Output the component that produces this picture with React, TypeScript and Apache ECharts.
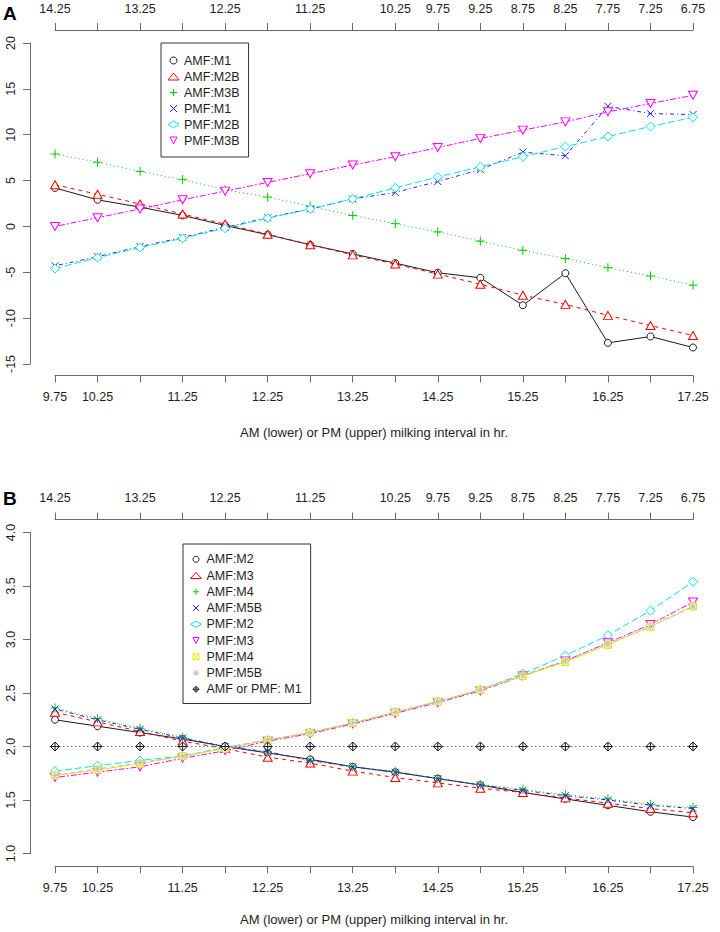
import React, { useEffect, useRef } from "react";
import * as echarts from "echarts";

// ---------- data ----------
const xCategories = ["9.75", "10.25", "10.75", "11.25", "11.75", "12.25", "12.75", "13.25", "13.75", "14.25", "14.75", "15.25", "15.75", "16.25", "16.75", "17.25"];
const topCategories = ["14.25", "13.75", "13.25", "12.75", "12.25", "11.75", "11.25", "10.75", "10.25", "9.75", "9.25", "8.75", "8.25", "7.75", "7.25", "6.75"];
const bottomShownLabels = ["9.75", "10.25", "11.25", "12.25", "13.25", "14.25", "15.25", "16.25", "17.25"];
const topShownLabels = ["14.25", "13.25", "12.25", "11.25", "10.25", "9.75", "9.25", "8.75", "8.25", "7.75", "7.25", "6.75"];
const yTicksA = [-15, -10, -5, 0, 5, 10, 15, 20];
const yTicksB = [1.0, 1.5, 2.0, 2.5, 3.0, 3.5, 4.0];
const xTitle = "AM (lower) or PM (upper) milking interval in hr.";

// Panel A
const namesA = ["AMF:M1", "AMF:M2B", "AMF:M3B", "PMF:M1", "PMF:M2B", "PMF:M3B"];
const amfM1 = [4.2, 2.9, 2.1, 1.2, 0.1, -0.9, -2.0, -3.0, -4.0, -5.05, -5.6, -8.6, -5.1, -12.7, -12.0, -13.2];
const amfM2B = [4.55, 3.5, 2.45, 1.35, 0.25, -0.85, -2.0, -3.1, -4.1, -5.2, -6.3, -7.5, -8.5, -9.7, -10.8, -11.9];
const amfM3B = [7.9, 7.0, 6.0, 5.1, 4.0, 3.2, 2.2, 1.2, 0.3, -0.6, -1.6, -2.6, -3.5, -4.5, -5.4, -6.4];
const pmfM1 = [-4.3, -3.3, -2.2, -1.2, -0.1, 0.95, 1.9, 3.0, 3.7, 4.9, 6.2, 8.1, 7.7, 13.1, 12.3, 12.2];
const pmfM2B = [-4.6, -3.4, -2.3, -1.3, -0.2, 0.9, 1.9, 3.0, 4.2, 5.4, 6.5, 7.6, 8.7, 9.8, 10.9, 11.9];
const pmfM3B = [0.0, 0.95, 1.9, 2.9, 3.85, 4.8, 5.75, 6.7, 7.6, 8.6, 9.6, 10.5, 11.4, 12.5, 13.4, 14.3];
const valuesA = [amfM1, amfM2B, amfM3B, pmfM1, pmfM2B, pmfM3B];

// Panel B
const namesB = ["AMF:M2", "AMF:M3", "AMF:M4", "AMF:M5B", "PMF:M2", "PMF:M3", "PMF:M4", "PMF:M5B", "AMF or PMF: M1"];
const amfM2 = [2.25, 2.19, 2.13, 2.07, 2.0, 1.94, 1.88, 1.81, 1.76, 1.70, 1.64, 1.57, 1.51, 1.45, 1.39, 1.34];
const amfM3 = [2.32, 2.23, 2.14, 2.05, 1.98, 1.90, 1.845, 1.77, 1.71, 1.66, 1.61, 1.57, 1.52, 1.47, 1.42, 1.38];
const amfM4 = [2.36, 2.26, 2.17, 2.085, 2.0, 1.95, 1.87, 1.81, 1.77, 1.70, 1.645, 1.60, 1.55, 1.51, 1.46, 1.43];
const amfM5B = [2.35, 2.25, 2.16, 2.08, 2.0, 1.95, 1.87, 1.81, 1.76, 1.70, 1.64, 1.59, 1.54, 1.50, 1.45, 1.42];
const pmfM2 = [1.77, 1.82, 1.87, 1.91, 1.99, 2.06, 2.13, 2.22, 2.32, 2.42, 2.53, 2.68, 2.85, 3.04, 3.27, 3.54];
const pmfM3 = [1.71, 1.76, 1.81, 1.89, 1.96, 2.05, 2.12, 2.21, 2.31, 2.41, 2.52, 2.66, 2.80, 2.97, 3.14, 3.35];
const pmfM4 = [1.73, 1.78, 1.84, 1.91, 1.98, 2.06, 2.13, 2.22, 2.32, 2.42, 2.53, 2.66, 2.79, 2.95, 3.12, 3.31];
const pmfM5B = [1.73, 1.79, 1.85, 1.91, 1.99, 2.06, 2.13, 2.22, 2.32, 2.42, 2.53, 2.67, 2.80, 2.96, 3.12, 3.31];
const m1 = [2.0, 2.0, 2.0, 2.0, 2.0, 2.0, 2.0, 2.0, 2.0, 2.0, 2.0, 2.0, 2.0, 2.0, 2.0, 2.0];
const valuesB = [amfM2, amfM3, amfM4, amfM5B, pmfM2, pmfM3, pmfM4, pmfM5B, m1];
const m1LineExtent = [9.75, 17.6];

// ---------- styles ----------
const FONT = "'Liberation Sans', Arial, Helvetica, sans-serif";
const AXIS_COLOR = "#6a6a6a";
const TEXT_COLOR = "#1e1e1e";

const SYM = {
  circle: "circle",
  triangle: "triangle",
  plus: "path://M-1,0L1,0M0,-1L0,1",
  cross: "path://M-1,-1L1,1M-1,1L1,-1",
  diamond: "diamond",
  invTriangle: "path://M-1,-1L1,-1L0,1Z",
  boxX: "path://M-1,-1L1,-1L1,1L-1,1ZM-1,-1L1,1M-1,1L1,-1",
  asterisk: "path://M-1,0L1,0M0,-1L0,1M-0.7,-0.7L0.7,0.7M-0.7,0.7L0.7,-0.7",
  diamondPlus: "path://M0,-1L1,0L0,1L-1,0ZM-1,0L1,0M0,-1L0,1",
};

const DASH = {
  solid: "solid",
  dashed: [4, 4],
  dotted: [1, 3],
  dotdash: [1, 3, 4, 3],
  longdash: [7, 3],
  twodash: [2, 2, 6, 2],
};

const stylesA = [
  { color: "#1a1a1a", symbol: SYM.circle, size: 7, dash: DASH.solid },
  { color: "#FF0000", symbol: SYM.triangle, size: [9, 8], dash: DASH.dashed },
  { color: "#00CD00", symbol: SYM.plus, size: 9, dash: DASH.dotted },
  { color: "#2020FF", symbol: SYM.cross, size: 7, dash: DASH.dotdash },
  { color: "#00E5EE", symbol: SYM.diamond, size: 9, dash: DASH.longdash },
  { color: "#FF00FF", symbol: SYM.invTriangle, size: [9, 8], dash: DASH.twodash },
];

const stylesB = [
  { color: "#1a1a1a", symbol: SYM.circle, size: 7, dash: DASH.solid },
  { color: "#FF0000", symbol: SYM.triangle, size: [9, 8], dash: DASH.dashed },
  { color: "#00CD00", symbol: SYM.plus, size: 9, dash: DASH.dotted },
  { color: "#2020FF", symbol: SYM.cross, size: 7, dash: DASH.dotdash },
  { color: "#00E5EE", symbol: SYM.diamond, size: 9, dash: DASH.longdash },
  { color: "#FF00FF", symbol: SYM.invTriangle, size: [9, 8], dash: DASH.twodash },
  { color: "#E8E800", symbol: SYM.boxX, size: 7, dash: DASH.solid },
  { color: "#BEBEBE", symbol: SYM.asterisk, size: 8, dash: DASH.dashed },
  { color: "#1a1a1a", symbol: SYM.diamondPlus, size: 9, dash: DASH.dotted },
];
const m1LineColor = "#6a6ab4";

const textStyle = { fontFamily: FONT, color: TEXT_COLOR, fontSize: 12.5 };

function bottomAxis(gridIndex: number, offset: number, nameGap: number) {
  return {
    type: "category",
    gridIndex,
    position: "bottom",
    data: xCategories,
    boundaryGap: false,
    offset,
    axisLine: { show: true, onZero: false, lineStyle: { color: AXIS_COLOR, width: 1 } },
    axisTick: { show: true, interval: 0, length: 7, lineStyle: { color: AXIS_COLOR, width: 1 } },
    axisLabel: {
      interval: (_i: number, v: string) => bottomShownLabels.includes(v),
      margin: 15,
      ...textStyle,
    },
    splitLine: { show: false },
    name: xTitle,
    nameLocation: "middle",
    nameGap,
    nameTextStyle: { ...textStyle, fontSize: 13 },
  };
}

function topAxis(gridIndex: number, offset: number) {
  return {
    type: "category",
    gridIndex,
    position: "top",
    data: topCategories,
    boundaryGap: false,
    offset,
    axisLine: { show: true, onZero: false, lineStyle: { color: AXIS_COLOR, width: 1 } },
    axisTick: { show: true, interval: 0, length: 7, lineStyle: { color: AXIS_COLOR, width: 1 } },
    axisLabel: {
      interval: (_i: number, v: string) => topShownLabels.includes(v),
      margin: 15,
      ...textStyle,
    },
    splitLine: { show: false },
  };
}

function leftAxis(gridIndex: number, ticks: number[], decimals: number) {
  return {
    type: "value",
    gridIndex,
    position: "left",
    offset: 25,
    min: ticks[0],
    max: ticks[ticks.length - 1],
    interval: ticks[1] - ticks[0],
    axisLine: { show: true, onZero: false, lineStyle: { color: AXIS_COLOR, width: 1 } },
    axisTick: { show: true, length: 7, lineStyle: { color: AXIS_COLOR, width: 1 } },
    axisLabel: {
      rotate: 90,
      margin: 13,
      formatter: (v: number) => v.toFixed(decimals),
      ...textStyle,
    },
    splitLine: { show: false },
  };
}

function makeSeries(names: string[], values: number[][], styles: any[], xAxisIndex: number, yAxisIndex: number) {
  return names.map((name, i) => {
    const s = styles[i];
    return {
      type: "line",
      name,
      xAxisIndex,
      yAxisIndex,
      data: values[i],
      symbol: s.symbol,
      symbolSize: s.size,
      showSymbol: true,
      showAllSymbol: true,
      clip: false,
      itemStyle: { color: "#ffffff", borderColor: s.color, borderWidth: 1 },
      lineStyle: { color: s.color, width: 1, type: s.dash },
      emphasis: { disabled: true },
      z: 2 + i * 0.01,
    };
  });
}

function legend(names: string[], styles: any[], left: number, top: number, padding: number[], itemGap: number, iconH: number) {
  return {
    orient: "vertical",
    left,
    top,
    padding,
    itemGap,
    itemWidth: 11,
    itemHeight: iconH,
    borderColor: "#333",
    borderWidth: 1,
    borderRadius: 0,
    backgroundColor: "#ffffff",
    selectedMode: false,
    textStyle: { ...textStyle },
    data: names.map((n, i) => ({
      name: n,
      icon: styles[i].symbol,
      itemStyle: { color: "#ffffff", borderColor: styles[i].color, borderWidth: 1 },
    })),
  };
}

export default function App() {
  const ref = useRef<HTMLDivElement>(null);

  useEffect(() => {
    if (!ref.current) return;
    const chart = echarts.init(ref.current, null, { renderer: "svg" });

    const seriesA = makeSeries(namesA, valuesA, stylesA, 0, 0);
    const seriesB = makeSeries(namesB, valuesB, stylesB, 2, 1);
    // M1 markers only; its dotted line is drawn by the extent series below
    const m1Series: any = seriesB[seriesB.length - 1];
    m1Series.lineStyle = { ...m1Series.lineStyle, opacity: 0 };
    m1Series.z = 3;
    const m1Line = {
      type: "line",
      name: namesB[namesB.length - 1],
      xAxisIndex: 4,
      yAxisIndex: 1,
      data: m1LineExtent.map((x) => [x, m1[0]]),
      symbol: "none",
      clip: false,
      lineStyle: { color: m1LineColor, width: 1.2, type: [1.5, 2.5] },
      emphasis: { disabled: true },
      z: 2.5,
    };

    const option: any = {
      animation: false,
      backgroundColor: "#ffffff",
      textStyle: { fontFamily: FONT },
      grid: [
        { left: 55, width: 638, top: 43, height: 321, containLabel: false, outerBoundsMode: "none" },
        { left: 55, width: 638, top: 532.5, height: 321, containLabel: false, outerBoundsMode: "none" },
      ],
      xAxis: [
        bottomAxis(0, 11.5, 50),
        topAxis(0, 13),
        bottomAxis(1, 12.7, 47),
        topAxis(1, 13),
        { type: "value", gridIndex: 1, min: Number(xCategories[0]), max: Number(xCategories[xCategories.length - 1]), show: false },
      ],
      yAxis: [leftAxis(0, yTicksA, 0), leftAxis(1, yTicksB, 1)],
      legend: [
        legend(namesA, stylesA, 161, 43, [11, 9, 10, 6.5], 3, 7),
        legend(namesB, stylesB, 183, 544, [8.75, 9, 7.75, 7], 3.25, 6),
      ],
      graphic: [
        { type: "text", left: 3, top: 4, style: { text: "A", fontSize: 19, fontWeight: "bold", fontFamily: FONT, fill: "#000" } },
        { type: "text", left: 3, top: 489, style: { text: "B", fontSize: 19, fontWeight: "bold", fontFamily: FONT, fill: "#000" } },
      ],
      series: [...seriesA, ...seriesB, m1Line],
    };

    chart.setOption(option);
    return () => chart.dispose();
  }, []);

  return (
    <div
      ref={ref}
      style={{ position: "absolute", left: 0, top: 0, width: 720, height: 932, background: "#fff" }}
    />
  );
}
